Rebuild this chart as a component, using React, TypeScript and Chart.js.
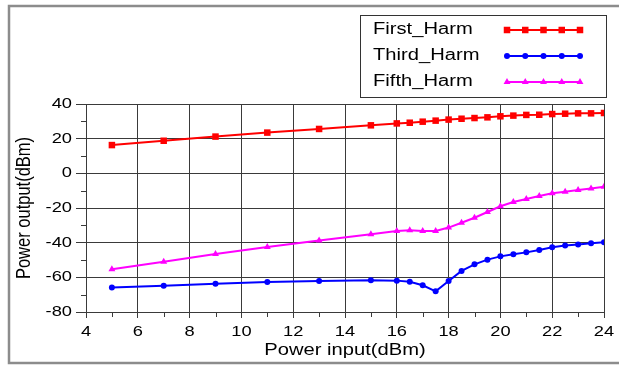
import React, { useEffect, useRef } from 'react';
import { Chart, registerables } from 'chart.js';

Chart.register(...registerables);

const inputPower = [5, 7, 9, 11, 13, 15, 16, 16.5, 17, 17.5, 18, 18.5, 19, 19.5, 20, 20.5, 21, 21.5, 22, 22.5, 23, 23.5, 24];
const firstHarm = [16.3, 18.8, 21.2, 23.5, 25.6, 27.7, 28.8, 29.2, 29.8, 30.4, 31.0, 31.5, 31.9, 32.3, 32.9, 33.3, 33.7, 33.8, 34.2, 34.4, 34.6, 34.6, 34.8];
const thirdHarm = [-65.8, -64.8, -63.7, -62.7, -62.1, -61.7, -61.9, -62.5, -64.6, -68.1, -62.1, -56.3, -52.5, -49.8, -47.9, -46.7, -45.6, -44.2, -42.7, -41.7, -41.0, -40.4, -39.8];
const fifthHarm = [-55.4, -51.0, -46.5, -42.5, -38.7, -35.2, -33.3, -32.9, -33.3, -33.3, -31.3, -28.5, -25.6, -22.3, -19.0, -16.5, -14.8, -13.1, -11.5, -10.6, -9.6, -8.7, -7.7];
const seriesNames = ['First_Harm', 'Third_Harm', 'Fifth_Harm'];
const xTitle = 'Power input(dBm)';
const yTitle = 'Power output(dBm)';

const FONT = '"Liberation Sans", Arial, sans-serif';
const GRID = '#3a3a3a';
const TEXT_STRETCH = 1.26;

function drawMarker(ctx: CanvasRenderingContext2D, style: string, x: number, y: number, r: number, color: string) {
  ctx.fillStyle = color;
  ctx.beginPath();
  if (style === 'rect') {
    const s = r * Math.SQRT1_2;
    ctx.rect(x - s, y - s, 2 * s, 2 * s);
  } else if (style === 'triangle') {
    let a = 0;
    ctx.moveTo(x + Math.sin(a) * r, y - Math.cos(a) * r);
    a += (2 * Math.PI) / 3;
    ctx.lineTo(x + Math.sin(a) * r, y - Math.cos(a) * r);
    a += (2 * Math.PI) / 3;
    ctx.lineTo(x + Math.sin(a) * r, y - Math.cos(a) * r);
    ctx.closePath();
  } else {
    ctx.arc(x, y, r, 0, Math.PI * 2);
  }
  ctx.fill();
}

// The reference figure's lettering is horizontally widened; reproduce that
// by scaling each fillText call along the device x axis about its anchor.
const stretchTextPlugin = {
  id: 'stretchText',
  beforeDraw(chart: any) {
    const ctx = chart.ctx;
    if (ctx.__stretched) return;
    ctx.__stretched = true;
    const orig = ctx.fillText;
    ctx.fillText = function (text: string, x: number, y: number, maxWidth?: number) {
      const m = ctx.getTransform();
      const p = m.transformPoint(new DOMPoint(x, y));
      ctx.save();
      ctx.setTransform(new DOMMatrix().translate(p.x, p.y).scale(TEXT_STRETCH, 1).translate(-p.x, -p.y).multiply(m));
      if (maxWidth === undefined) orig.call(ctx, text, x, y);
      else orig.call(ctx, text, x, y, maxWidth * 2);
      ctx.restore();
    };
  },
};

const framePlugin = {
  id: 'frame',
  beforeDraw(chart: any) {
    const ctx = chart.ctx;
    ctx.save();
    ctx.fillStyle = '#fff';
    ctx.fillRect(0, 0, chart.width, chart.height);
    ctx.strokeStyle = '#8c8c8c';
    ctx.lineWidth = 2.5;
    ctx.strokeRect(9, 6, 700, 357);
    ctx.restore();
  },
};

const minorTicksPlugin = {
  id: 'minorTicks',
  afterDraw(chart: any) {
    const ctx = chart.ctx;
    const xs = chart.scales.x;
    const ys = chart.scales.y;
    const area = chart.chartArea;
    ctx.save();
    ctx.strokeStyle = GRID;
    ctx.lineWidth = 1;
    for (let v = xs.min + 1; v < xs.max; v += 2) {
      const px = Math.round(xs.getPixelForValue(v)) + 0.5;
      ctx.beginPath();
      ctx.moveTo(px, area.bottom);
      ctx.lineTo(px, area.bottom + 5);
      ctx.stroke();
    }
    for (let v = ys.min + 10; v < ys.max; v += 20) {
      const py = Math.round(ys.getPixelForValue(v)) + 0.5;
      ctx.beginPath();
      ctx.moveTo(area.left - 5, py);
      ctx.lineTo(area.left, py);
      ctx.stroke();
    }
    ctx.restore();
  },
};

const legendPlugin = {
  id: 'boxLegend',
  afterDraw(chart: any) {
    const ctx = chart.ctx;
    ctx.save();
    ctx.strokeStyle = '#333';
    ctx.lineWidth = 1;
    ctx.strokeRect(360.5, 15.5, 246, 82);
    const rows = [30, 56, 82];
    chart.data.datasets.forEach((ds: any, i: number) => {
      const y = rows[i];
      ctx.fillStyle = '#000';
      ctx.font = '16px ' + FONT;
      ctx.textAlign = 'left';
      ctx.textBaseline = 'middle';
      ctx.fillText(ds.label, 373, y);
      ctx.strokeStyle = ds.borderColor;
      ctx.lineWidth = 2;
      ctx.beginPath();
      ctx.moveTo(507, y);
      ctx.lineTo(580, y);
      ctx.stroke();
      for (let k = 0; k < 5; k++) {
        drawMarker(ctx, ds.pointStyle, 507 + k * 18.25, y, ds.pointRadius, ds.borderColor);
      }
    });
    ctx.restore();
  },
};

export default function App() {
  const ref = useRef<HTMLCanvasElement>(null);
  useEffect(() => {
    if (!ref.current) return;
    const mk = (label: string, data: number[], color: string, style: string, r: number) => ({
      label,
      data: inputPower.map((x, i) => ({ x, y: data[i] })),
      borderColor: color,
      backgroundColor: color,
      borderWidth: 2,
      pointStyle: style,
      pointRadius: r,
      pointHoverRadius: r,
      pointBorderWidth: 0,
      tension: 0,
    });
    const chart = new Chart(ref.current, {
      type: 'line',
      data: {
        datasets: [
          mk(seriesNames[0], firstHarm, '#ff0000', 'rect', 4.6),
          mk(seriesNames[1], thirdHarm, '#0000ff', 'circle', 3),
          mk(seriesNames[2], fifthHarm, '#ff00ff', 'triangle', 4),
        ],
      },
      options: {
        animation: false,
        responsive: false,
        maintainAspectRatio: false,
        layout: { padding: { left: 0, top: 104, right: 15, bottom: 0 } },
        plugins: {
          legend: { display: false },
          tooltip: { enabled: false },
        },
        scales: {
          x: {
            type: 'linear',
            min: 4,
            max: 24,
            ticks: { stepSize: 2, color: '#000', font: { family: FONT, size: 14.5 }, padding: 5, maxRotation: 0, autoSkip: false },
            grid: { color: GRID, lineWidth: 1, tickLength: 6, tickColor: GRID },
            border: { display: true, color: GRID, width: 1 },
            title: { display: true, text: xTitle, color: '#000', font: { family: FONT, size: 16 }, padding: { top: 0, bottom: 5 } },
            afterFit: (s: any) => { s.height = 53; },
          },
          y: {
            type: 'linear',
            min: -80,
            max: 40,
            ticks: { stepSize: 20, color: '#000', font: { family: FONT, size: 14.5 }, padding: 4 },
            grid: { color: GRID, lineWidth: 1, tickLength: 10, tickColor: GRID },
            border: { display: true, color: GRID, width: 1 },
            title: { display: true, text: yTitle, color: '#000', font: { family: FONT, size: 16.5 }, padding: { top: 14, bottom: 0 } },
            afterFit: (s: any) => { s.width = 86; },
          },
        },
      },
      plugins: [stretchTextPlugin, framePlugin, minorTicksPlugin, legendPlugin],
    } as any);
    return () => chart.destroy();
  }, []);
  return (
    <div style={{ position: 'fixed', left: 0, top: 0, width: 619, height: 365, background: '#fff' }}>
      <canvas ref={ref} width={619} height={365} style={{ width: 619, height: 365 }} />
    </div>
  );
}
